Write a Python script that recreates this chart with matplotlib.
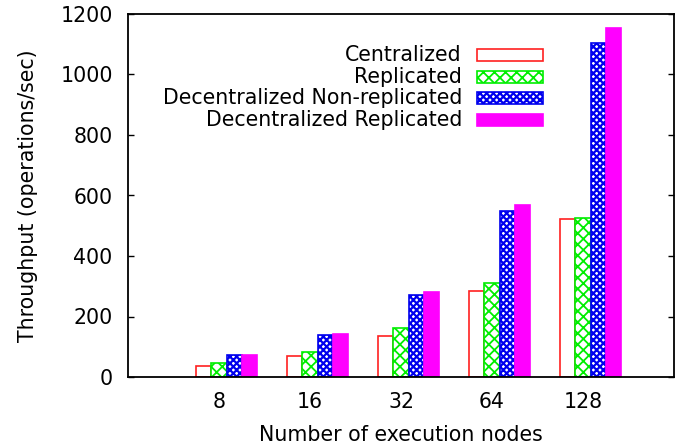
import numpy as np
import matplotlib
matplotlib.use("Agg")
import matplotlib.pyplot as plt
from matplotlib.patches import Rectangle

# data
nodes = ["8", "16", "32", "64", "128"]
series = ["Centralized", "Replicated",
          "Decentralized Non-replicated", "Decentralized Replicated"]
centralized = [36, 69, 136, 284, 522]
replicated = [46, 83, 162, 311, 526]
decentral_nonrep = [73, 139, 271, 549, 1104]
decentral_rep = [73, 142, 281, 569, 1154]
values = [centralized, replicated, decentral_nonrep, decentral_rep]

# look of each series: (facecolor, edgecolor, hatch, hatch linewidth)
styles = [
    ("white", "#ff2020", None, 1.0),
    ("white", "#00ee00", "xxx", 1.3),
    ("white", "#0000ee", "xxxxx", 1.6),
    ("#ff00ff", "#ff00ff", None, 1.0),
]

plt.rcParams["font.family"] = "DejaVu Sans"
plt.rcParams["font.size"] = 14.8

fig = plt.figure(figsize=(6.87, 4.44), dpi=100)
ax = fig.add_axes([128 / 687, 1 - 377 / 444, 546 / 687, 363 / 444])

x = np.arange(len(nodes))
w = 0.166
for j, (vals, (fc, ec, hatch, hlw)) in enumerate(zip(values, styles)):
    with plt.rc_context({"hatch.linewidth": hlw}):
        ax.bar(x + (j - 1) * w, vals, width=w, facecolor=fc, edgecolor=ec,
               hatch=hatch, linewidth=1.2, zorder=2)

ax.set_xlim(-1, 5)
ax.set_ylim(0, 1200)
ax.set_xticks(x)
ax.set_xticklabels(nodes)
ax.set_yticks(np.arange(0, 1201, 200))
ax.tick_params(axis="y", direction="in", length=4, width=1, pad=11,
               right=True)
ax.tick_params(axis="x", length=0, pad=11)
for s in ax.spines.values():
    s.set_linewidth(1.3)

ax.set_xlabel("Number of execution nodes", labelpad=9)
ax.set_ylabel("Throughput (operations/sec)", labelpad=16)

# key, drawn the way gnuplot does it: label on the left, sample on the right
row_y = [0.887, 0.826, 0.7686, 0.708]
for name, ry, (fc, ec, hatch, hlw) in zip(series, row_y, styles):
    ax.text(0.6117, ry, name, transform=ax.transAxes, ha="right",
            va="center")
    with plt.rc_context({"hatch.linewidth": hlw}):
        ax.add_patch(Rectangle((0.639, ry - 0.0165), 0.1209, 0.033,
                               transform=ax.transAxes, facecolor=fc,
                               edgecolor=ec, hatch=hatch, linewidth=1.2))

fig.savefig("out.png", dpi=100)
